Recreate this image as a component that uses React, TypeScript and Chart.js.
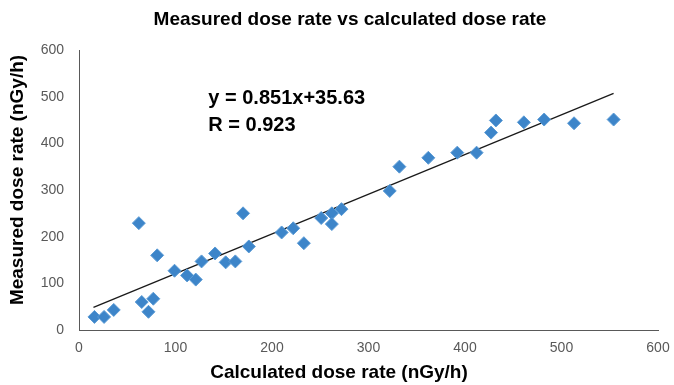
import React, { useEffect, useRef } from "react";
import { Chart, registerables } from "chart.js";
Chart.register(...registerables);

const chartTitle = "Measured dose rate vs calculated dose rate";
const xTitle = "Calculated dose rate (nGy/h)";
const yTitle = "Measured dose rate (nGy/h)";
const equationText = "y = 0.851x+35.63";
const rText = "R = 0.923";

const calculated = [16, 26, 36, 62, 65, 72, 77, 81, 99, 112, 121, 127, 141, 152, 162, 170, 176, 210, 222, 233, 251, 262, 262, 272, 322, 332, 362, 392, 412, 427, 432, 461, 482, 513, 554];
const measured = [28, 28, 43, 229, 60, 39, 67, 160, 127, 117, 108, 147, 164, 145, 147, 250, 179, 209, 218, 186, 240, 250, 227, 259, 298, 350, 369, 380, 380, 423, 449, 445, 451, 443, 451];

const slope = 0.851;
const intercept = 35.63;
const trendRange = [15, 554];

const axisMin = 0;
const axisMax = 600;
const axisStep = 100;

const textPlugin = {
  id: "texts",
  afterDraw(chart: any) {
    const ctx = chart.ctx;
    const xs = chart.scales.x;
    const ys = chart.scales.y;
    ctx.save();
    ctx.fillStyle = "#000";
    ctx.textBaseline = "middle";
    ctx.textAlign = "center";
    ctx.font = "bold 19px 'Liberation Sans', Arial, sans-serif";
    ctx.fillText(chartTitle, 350, 20);
    ctx.font = "bold 19px 'Liberation Sans', Arial, sans-serif";
    ctx.fillText(xTitle, 339, 373);
    ctx.save();
    ctx.translate(18, 180);
    ctx.rotate(-Math.PI / 2);
    ctx.fillText(yTitle, 0, 0);
    ctx.restore();
    ctx.textAlign = "left";
    ctx.font = "bold 20px 'Liberation Sans', Arial, sans-serif";
    ctx.fillText(equationText, xs.getPixelForValue(134), ys.getPixelForValue(497));
    ctx.fillText(rText, xs.getPixelForValue(134), ys.getPixelForValue(438));
    ctx.restore();
  },
};

export default function App() {
  const ref = useRef<HTMLCanvasElement | null>(null);
  useEffect(() => {
    if (!ref.current) return;
    const chart = new Chart(ref.current, {
      type: "scatter",
      data: {
        datasets: [
          {
            label: "Measured",
            data: calculated.map((x, i) => ({ x, y: measured[i] })),
            pointStyle: "rectRot",
            pointRadius: 6.5,
            backgroundColor: "#3d85c9",
            borderColor: "#5b9bd5",
            borderWidth: 1,
          },
          {
            type: "line",
            label: "Trend",
            data: trendRange.map((x) => ({ x, y: slope * x + intercept })),
            borderColor: "#1a1a1a",
            borderWidth: 1.3,
            pointRadius: 0,
            fill: false,
          } as any,
        ],
      },
      options: {
        animation: false,
        responsive: false,
        maintainAspectRatio: false,
        layout: { padding: { top: 50, right: 16, left: 0, bottom: 0 } },
        plugins: {
          legend: { display: false },
          tooltip: { enabled: false },
          title: { display: false },
        },
        scales: {
          x: {
            type: "linear",
            min: axisMin,
            max: axisMax,
            ticks: { stepSize: axisStep, color: "#595959", font: { family: "'Liberation Sans', Arial", size: 14 }, padding: 10 },
            grid: { display: false, drawTicks: false },
            border: { display: true, color: "#595959", width: 1 },
            afterFit: (s: any) => { s.height = 55; s.paddingRight = 0; s.paddingLeft = 0; },
          },
          y: {
            type: "linear",
            min: axisMin,
            max: axisMax,
            ticks: { stepSize: axisStep, color: "#595959", font: { family: "'Liberation Sans', Arial", size: 14 }, padding: 15 },
            grid: { display: false, drawTicks: false },
            border: { display: true, color: "#595959", width: 1 },
            afterFit: (s: any) => { s.width = 79; s.paddingTop = 0; s.paddingBottom = 0; },
          },
        },
      },
      plugins: [textPlugin],
    });
    return () => chart.destroy();
  }, []);
  return (
    <div style={{ position: "fixed", left: 0, top: 0, width: 674, height: 385, background: "#fff" }}>
      <canvas ref={ref} width={674} height={385} style={{ width: 674, height: 385 }} />
    </div>
  );
}
